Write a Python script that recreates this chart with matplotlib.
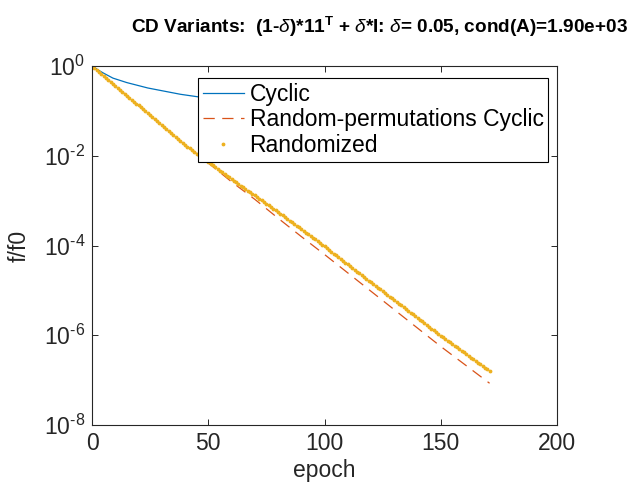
import numpy as np
import matplotlib
matplotlib.use("Agg")
import matplotlib.pyplot as plt

plt.rcParams['font.family'] = ['Liberation Sans', 'DejaVu Sans']
plt.rcParams['mathtext.fontset'] = 'custom'
plt.rcParams['mathtext.rm'] = 'Liberation Sans'
plt.rcParams['mathtext.it'] = 'Liberation Sans:italic'
plt.rcParams['mathtext.bf'] = 'Liberation Sans:bold'
plt.rcParams['axes.unicode_minus'] = False

# ---- data (log10 of f/f0) ----
cyclic_epoch = [0, 3, 5, 9, 15, 24, 30, 38, 46, 60, 80, 100, 120, 140, 171]
cyclic_log = [0.0, -0.10, -0.16, -0.27, -0.37, -0.49, -0.55, -0.63, -0.69,
              -0.78, -0.88, -0.96, -1.03, -1.09, -1.17]

perm_epoch = [0, 10, 20, 30, 40, 45, 50, 60, 70, 80, 90, 100, 110, 120,
              130, 140, 150, 160, 171]
perm_log = [0.0, -0.44, -0.88, -1.32, -1.76, -1.95, -2.16, -2.58, -2.97,
            -3.39, -3.80, -4.20, -4.61, -5.02, -5.43, -5.84, -6.25, -6.64, -7.07]

rand_log = [
    0.000, -0.044, -0.088, -0.132, -0.176, -0.220, -0.264, -0.308, -0.352, -0.396,
    -0.440, -0.484, -0.528, -0.572, -0.616, -0.660, -0.704, -0.748, -0.792, -0.836,
    -0.880, -0.924, -0.968, -1.012, -1.056, -1.100, -1.144, -1.188, -1.232, -1.276,
    -1.320, -1.364, -1.408, -1.452, -1.496, -1.540, -1.584, -1.628, -1.672, -1.716,
    -1.760, -1.798, -1.836, -1.874, -1.912, -1.950, -1.988, -2.026, -2.064, -2.102,
    -2.140, -2.178, -2.216, -2.254, -2.292, -2.330, -2.368, -2.406, -2.444, -2.482,
    -2.520, -2.557, -2.593, -2.630, -2.666, -2.703, -2.739, -2.776, -2.812, -2.849,
    -2.885, -2.922, -2.958, -2.995, -3.031, -3.068, -3.104, -3.141, -3.177, -3.214,
    -3.250, -3.289, -3.327, -3.366, -3.404, -3.443, -3.481, -3.520, -3.558, -3.597,
    -3.635, -3.674, -3.712, -3.751, -3.789, -3.828, -3.866, -3.905, -3.943, -3.982,
    -4.020, -4.060, -4.100, -4.140, -4.180, -4.220, -4.260, -4.300, -4.340, -4.380,
    -4.420, -4.460, -4.500, -4.540, -4.580, -4.620, -4.660, -4.700, -4.740, -4.780,
    -4.820, -4.860, -4.900, -4.940, -4.980, -5.020, -5.059, -5.099, -5.138, -5.178,
    -5.218, -5.257, -5.297, -5.336, -5.376, -5.416, -5.455, -5.495, -5.534, -5.574,
    -5.614, -5.653, -5.693, -5.732, -5.772, -5.812, -5.851, -5.891, -5.930, -5.968,
    -6.006, -6.043, -6.081, -6.119, -6.157, -6.195, -6.232, -6.270, -6.308, -6.346,
    -6.384, -6.421, -6.459, -6.497, -6.535, -6.573, -6.610, -6.648, -6.686, -6.724,
    -6.762, -6.800]
rand_epoch = list(range(len(rand_log)))

labels = ["Cyclic", "Random-permutations Cyclic", "Randomized"]
xticks = [0, 50, 100, 150, 200]
yticks = [1e-8, 1e-6, 1e-4, 1e-2, 1e0]
ytick_labels = ["10$^{\u20108}$", "10$^{\u20106}$", "10$^{\u20104}$",
                "10$^{\u20102}$", "10$^{0}$"]

c_blue = '#0072BD'
c_orange = '#D95319'
c_yellow = '#EDB120'
dark = '#262626'

fig = plt.figure(figsize=(6.34, 4.84), dpi=100)
ax = fig.add_axes([92/634, 59/484, 465/634, 359/484])

ax.plot(cyclic_epoch, 10**np.array(cyclic_log), color=c_blue, lw=0.9, label=labels[0])
l2, = ax.plot(perm_epoch, 10**np.array(perm_log), color=c_orange, lw=0.9,
              label=labels[1])
l2.set_dashes([9, 6])
ax.plot(rand_epoch, 10**np.array(rand_log), linestyle='none', marker='.',
        ms=3.5, color=c_yellow, label=labels[2])

ax.set_yscale('log')
ax.set_xlim(0, 200)
ax.set_ylim(1e-8, 1e0)
ax.set_xticks(xticks)
ax.set_yticks(yticks)
ax.set_yticklabels(ytick_labels)
ax.minorticks_off()
ax.tick_params(direction='in', top=True, right=True, length=4, width=0.7,
               colors=dark, labelsize=16.5, pad=5)
for s in ax.spines.values():
    s.set_color(dark)
    s.set_linewidth(0.8)

ax.set_xlabel('epoch', fontsize=16.5, color=dark, labelpad=3)
ax.set_ylabel('f/f0', fontsize=16.5, color=dark, labelpad=9)

fig.text(379/634, 1 - 27/484,
         r"CD Variants:  (1-$\delta$)*11$^{\mathbf{T}}$ + $\delta$*I: $\delta$= 0.05, cond(A)=1.90e+03",
         ha='center', va='center', fontsize=13.7, fontweight='bold', color='black')

leg = fig.legend(loc='upper left', bbox_to_anchor=(198/634, 1 - 78/484),
                 fontsize=16.5, frameon=True, fancybox=False, framealpha=1,
                 edgecolor='black', borderpad=0.2, labelspacing=0.12,
                 handlelength=1.8, handletextpad=0.25, borderaxespad=0,
                 markerscale=1.0)
leg.get_frame().set_linewidth(0.8)

fig.savefig('out.png', dpi=100)
